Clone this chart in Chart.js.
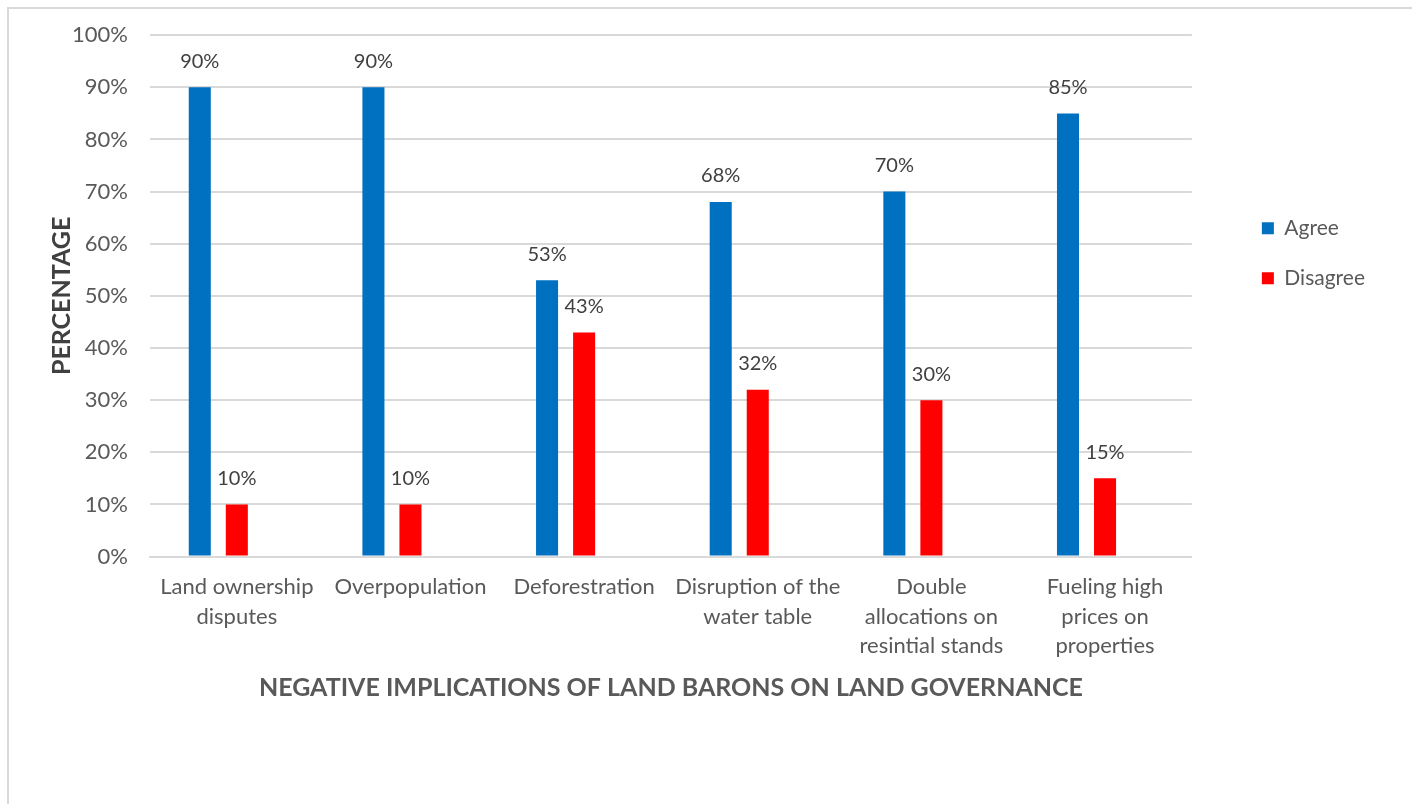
<!DOCTYPE html>
<html>
<head>
<meta charset="utf-8">
<script src="https://cdn.jsdelivr.net/npm/chart.js@4.4.0/dist/chart.umd.min.js"></script>
<style>
  html, body { margin: 0; padding: 0; background: #fff; }
  #wrap { position: relative; width: 1412px; height: 804px; }
  #frame { position: absolute; left: 7px; top: 7px; width: 1420px; height: 820px;
           border-left: 2px solid #d9d9d9; border-top: 2px solid #d9d9d9; box-sizing: border-box; }
</style>
</head>
<body>
<div id="wrap">
  <div id="frame"></div>
  <canvas id="plots" width="1412" height="804"></canvas>
</div>
<script>
// categories on the x axis (wrapped the same way as the picture)
var categories = [
  ["Land ownership", "disputes"],
  "Overpopulation",
  "Deforestration",
  ["Disruption of the", "water table"],
  ["Double", "allocations on", "resintial stands"],
  ["Fueling high", "prices on", "properties"]
];
var agree = [90, 90, 53, 68, 70, 85];
var disagree = [10, 10, 43, 32, 30, 15];
var empty = [null, null, null, null, null, null]; // third (blank) series keeps bars left of centre
var yTicks = [0, 10, 20, 30, 40, 50, 60, 70, 80, 90, 100];

var textGrey = "#595959";
var fontName = "Lato, 'Open Sans', sans-serif";

// draws the % value above each bar
var valueLabels = {
  id: "valueLabels",
  afterDatasetsDraw: function(chart) {
    var ctx = chart.ctx;
    ctx.save();
    ctx.font = "20px " + fontName;
    ctx.fillStyle = "#404040";
    ctx.textAlign = "center";
    ctx.textBaseline = "middle";
    chart.data.datasets.forEach(function(ds, i) {
      var meta = chart.getDatasetMeta(i);
      meta.data.forEach(function(bar, j) {
        var v = ds.data[j];
        if (v === null) return;
        ctx.fillText(v + "%", bar.x, bar.y - 26);
      });
    });
    ctx.restore();
  }
};

// push the legend a bit further away from the plot, like the original
var legendShift = {
  id: "legendShift",
  afterLayout: function(chart) {
    chart.legend.left += 41;
    chart.legend.right += 41;
  }
};

plots = document.getElementById("plots");
new Chart(plots, {
  type: "bar",
  data: {
    labels: categories,
    datasets: [
      { label: "Agree", data: agree, backgroundColor: "#0070c0" },
      { label: "Disagree", data: disagree, backgroundColor: "#ff0000" },
      { label: "", data: empty, backgroundColor: "#ffffff" }
    ]
  },
  options: {
    responsive: false,
    animation: false,
    categoryPercentage: 0.64,
    barPercentage: 0.595,
    layout: { padding: { left: 43, top: 35, right: 78, bottom: 97 } },
    plugins: {
      tooltip: { enabled: false },
      legend: {
        position: "right",
        align: "start",
        title: { display: true, text: " ", font: { size: 19 }, padding: { top: 131, bottom: 0 } },
        labels: {
          color: textGrey,
          font: { family: fontName, size: 21 },
          boxWidth: 12,
          boxHeight: 12,
          padding: 29,
          filter: function(item) { return item.text !== ""; }
        }
      }
    },
    scales: {
      x: {
        grid: { display: false },
        border: { color: "#d9d9d9", width: 2 },
        ticks: {
          color: textGrey,
          font: { family: fontName, size: 22, lineHeight: 1.34 },
          maxRotation: 0,
          autoSkip: false,
          padding: 8
        },
        title: {
          display: true,
          text: "NEGATIVE IMPLICATIONS OF LAND BARONS ON LAND GOVERNANCE",
          color: textGrey,
          font: { family: fontName, size: 25, weight: "bold" },
          padding: { top: 4 }
        }
      },
      y: {
        min: 0,
        max: 100,
        afterBuildTicks: function(axis) {
          axis.ticks = yTicks.map(function(v) { return { value: v }; });
        },
        afterFit: function(axis) { axis.width = 107; },
        grid: { color: "#d9d9d9", lineWidth: 2, drawTicks: false },
        border: { display: false },
        ticks: {
          color: textGrey,
          font: { family: fontName, size: 22 },
          padding: 22,
          callback: function(v) { return v + "%"; }
        },
        title: {
          display: true,
          text: "PERCENTAGE",
          color: "#404040",
          font: { family: fontName, size: 25, weight: "bold" },
          padding: { bottom: 2 }
        }
      }
    }
  },
  plugins: [valueLabels, legendShift]
});
</script>
</body>
</html>
